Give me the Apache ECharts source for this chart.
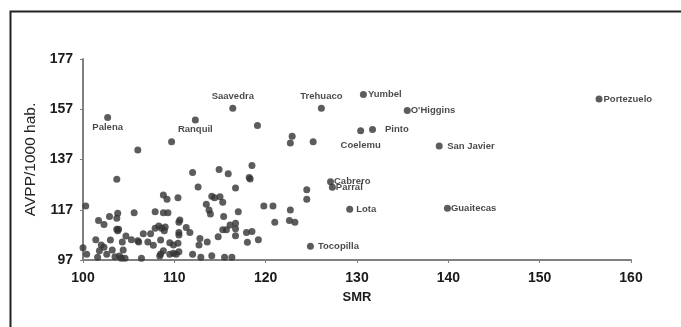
<!DOCTYPE html>
<html><head><meta charset="utf-8">
<script src="https://cdn.jsdelivr.net/npm/echarts@6/dist/echarts.min.js"></script>
<style>html,body{margin:0;padding:0;background:#fff}#c{width:681px;height:327px}</style>
</head><body><div id="c"></div>
<script>
// ---- data ----
const xTicks = [100, 110, 120, 130, 140, 150, 160];
const yTicks = [97, 117, 137, 157, 177];
const xTitle = 'SMR';
const yTitle = 'AVPP/1000 hab.';

// unlabelled communes (SMR, AVPP/1000 hab.)
const smr = [
  106.0,103.7,109.7,112.0,112.6,114.9,115.9,119.1,122.9,122.7,125.2,118.5,118.2,118.3,116.7,124.5,124.5,
  115.0,115.3,115.4,117.0,119.8,120.8,122.7,121.0,122.6,123.2,116.1,116.7,116.7,116.7,115.3,115.7,117.9,118.5,118.0,119.2,115.5,116.3,
  110.4,114.1,114.4,113.5,113.8,113.95,110.6,110.5,111.3,111.7,110.5,110.5,109.5,109.9,110.4,112.8,112.7,113.6,114.8,109.9,110.5,109.5,112.0,112.9,114.1,
  100.3,108.8,109.2,103.8,103.7,102.9,105.6,107.9,108.8,109.3,101.7,102.3,103.7,103.9,103.8,104.7,106.6,107.4,107.9,108.3,108.6,109.0,108.9,
  101.4,103.0,104.3,105.3,106.0,106.1,107.1,107.7,108.5,100.0,102.0,102.3,101.8,103.2,104.4,100.4,101.6,102.6,103.5,104.0,104.2,104.6,106.4,108.4,108.5,108.8,110.2
];
const avpp = [
  140.8,129.1,144.1,131.8,126.1,133.0,131.3,150.5,146.3,143.6,144.1,134.6,129.8,129.2,125.7,125.0,121.2,
  122.2,120.0,114.3,116.2,118.5,118.5,116.9,112.0,112.7,112.0,110.9,111.6,109.4,106.7,109.0,109.0,107.9,108.3,104.1,105.1,98.1,98.1,
  121.8,122.4,121.8,119.2,116.9,115.3,112.9,112.0,109.9,107.9,107.9,107.0,103.9,103.0,103.7,105.6,103.0,104.2,106.3,99.7,100.3,99.3,99.3,98.1,98.7,
  118.5,122.9,121.2,115.6,113.6,114.3,115.8,116.2,115.8,115.8,112.7,111.1,109.2,109.2,108.6,106.6,107.4,107.4,109.6,110.5,109.6,110.1,108.6,
  105.1,105.0,104.2,105.1,104.7,104.2,104.2,102.9,105.0,101.9,103.0,102.1,100.7,101.0,101.0,99.3,98.1,99.3,98.3,98.6,97.7,97.7,97.7,98.6,99.4,100.7,99.3
];

// labelled communes
const names    = ['Palena','Ranquil','Saavedra','Trehuaco','Yumbel','O\'Higgins','Pinto','Coelemu','San Javier','Portezuelo','Cabrero','Parral','Lota','Tocopilla','Guaitecas'];
const namedSmr = [102.7, 112.3, 116.4, 126.1, 130.7, 135.5, 131.7, 130.4, 139.0, 156.5, 127.1, 127.3, 129.2, 124.9, 139.9];
const namedAvpp= [153.7, 152.7, 157.4, 157.4, 162.9, 156.5, 148.9, 148.4, 142.4, 161.1, 128.1, 126.0, 117.2, 102.5, 117.6];

// ---- label placement (style only) ----
const labelPos = {
  'Palena':     {position:'bottom', distance:1, offset:[1,0]},
  'Ranquil':    {position:'bottom', distance:1, offset:[13,0]},
  'Saavedra':   {position:'top', distance:3, offset:[-8,0]},
  'Trehuaco':   {position:'top', distance:3, offset:[-17,0]},
  'Yumbel':     {position:'right', distance:1, offset:[0,-7]},
  'O\'Higgins': {position:'right', distance:0, offset:[-2,-4]},
  'Pinto':      {position:'right', distance:9, offset:[0,-4]},
  'Coelemu':    {position:'bottom', distance:6, offset:[6,0]},
  'San Javier': {position:'right', distance:4.5, offset:[0,0]},
  'Portezuelo': {position:'right', distance:1, offset:[0,-3]},
  'Cabrero':    {position:'right', distance:0, offset:[-2,-3.5]},
  'Parral':     {position:'right', distance:0, offset:[-3,3.5]},
  'Lota':       {position:'right', distance:3, offset:[0,0.5]},
  'Tocopilla':  {position:'right', distance:4, offset:[0,0]},
  'Guaitecas':  {position:'right', distance:0, offset:[-1,1.5]}
};

const FONT = '"Liberation Sans", Arial, Helvetica, sans-serif';
const plain = smr.map((x, i) => [x, avpp[i]]);
const named = names.map((n, i) => ({
  name: n, value: [namedSmr[i], namedAvpp[i]],
  label: Object.assign({show:true, formatter:n}, labelPos[n])
}));

const chart = echarts.init(document.getElementById('c'), null, {renderer:'canvas'});
chart.setOption({
  animation: false,
  backgroundColor: '#ffffff',
  graphic: [{
    type: 'rect', left: 8, top: 9, z: -1, silent: true,
    shape: {x: 0, y: 0, width: 720, height: 360},
    style: {fill: 'none', stroke: '#222', lineWidth: 2}
  }],
  grid: {left: 83, right: 50, top: 59, bottom: 67, containLabel: false},
  xAxis: {
    type: 'value', min: xTicks[0], max: xTicks[xTicks.length-1], interval: xTicks[1]-xTicks[0],
    name: xTitle, nameLocation: 'middle', nameGap: 31,
    nameTextStyle: {fontFamily: FONT, fontSize: 13, fontWeight: 'bold', color: '#1a1a1a'},
    axisLine: {show: true, onZero: false, lineStyle: {color: '#808080', width: 2}},
    axisTick: {show: true, length: 3, lineStyle: {color: '#808080', width: 1}},
    axisLabel: {margin: 11, fontFamily: FONT, fontSize: 14, fontWeight: 'bold', color: '#1a1a1a'},
    splitLine: {show: false}
  },
  yAxis: {
    type: 'value', min: yTicks[0], max: yTicks[yTicks.length-1], interval: yTicks[1]-yTicks[0],
    name: yTitle, nameLocation: 'middle', nameGap: 39,
    nameTextStyle: {fontFamily: FONT, fontSize: 15.5, color: '#222'},
    axisLine: {show: true, onZero: false, lineStyle: {color: '#808080', width: 2}},
    axisTick: {show: true, length: 3, lineStyle: {color: '#808080', width: 1}},
    axisLabel: {margin: 10, fontFamily: FONT, fontSize: 14, fontWeight: 'bold', color: '#1a1a1a'},
    splitLine: {show: false}
  },
  series: [{
    type: 'scatter', symbol: 'circle', symbolSize: 7,
    itemStyle: {color: '#333333'},
    data: plain.concat(named),
    label: {show: false, fontFamily: FONT, fontSize: 9.5, fontWeight: 'bold', color: '#1a1a1a'},
    labelLayout: {hideOverlap: false}
  }]
});
</script></body></html>
